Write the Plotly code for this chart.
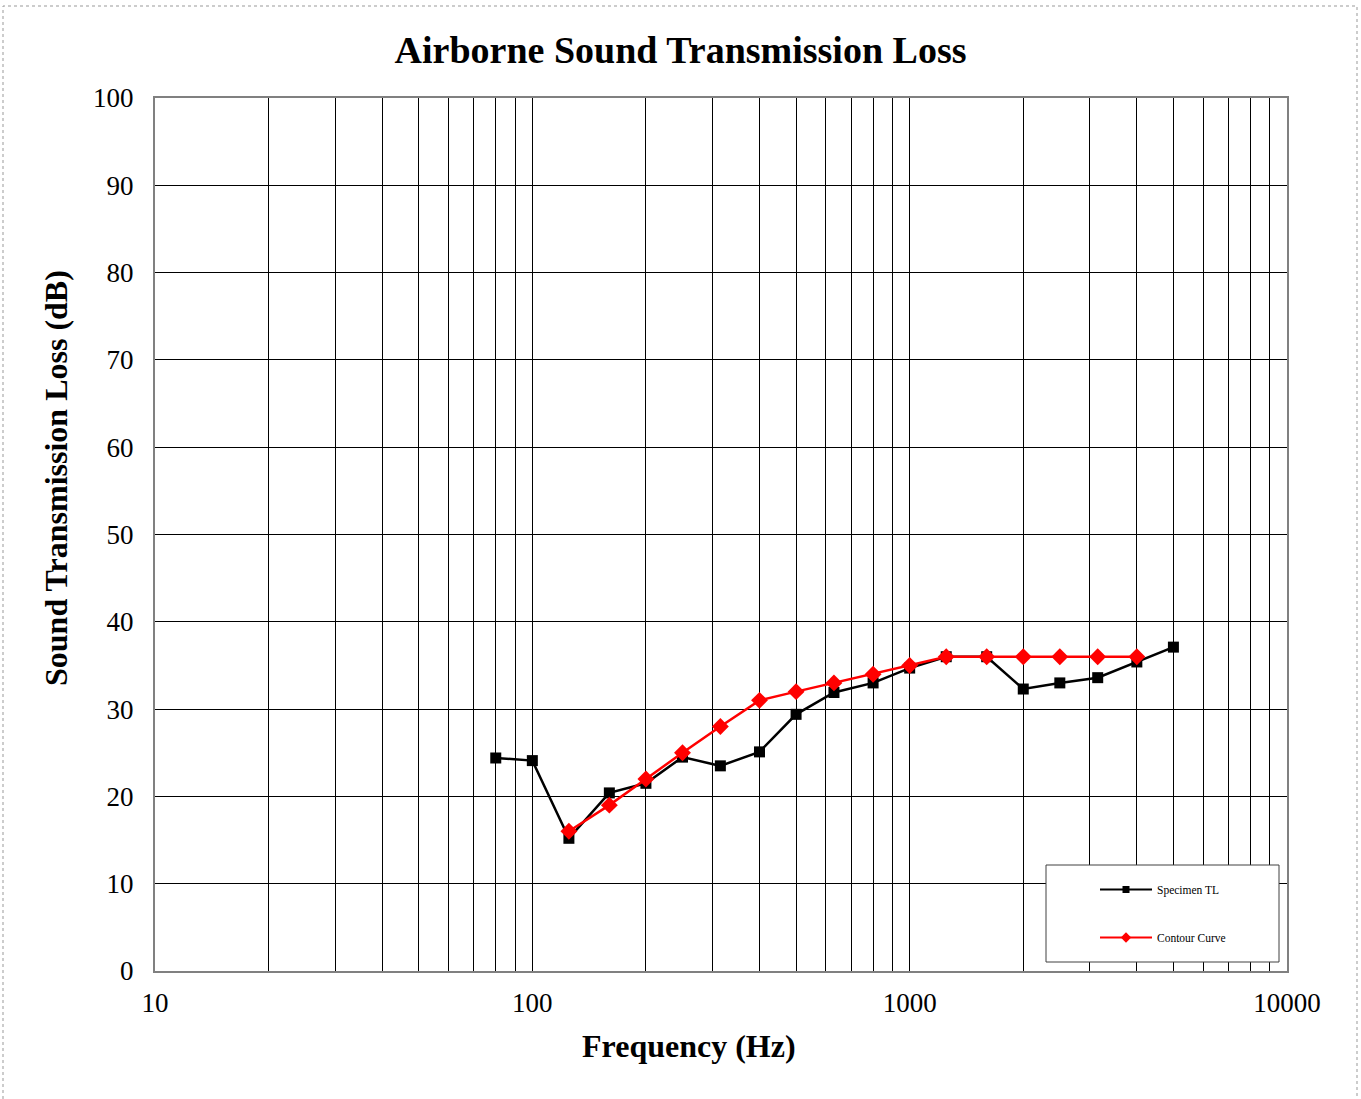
import plotly.graph_objects as go

freqs = [80, 100, 125, 160, 200, 250, 315, 400, 500, 630, 800, 1000, 1250, 1600, 2000, 2500, 3150, 4000, 5000]
specimen_tl = [24.4, 24.1, 15.2, 20.4, 21.5, 24.5, 23.5, 25.1, 29.4, 31.9, 33.0, 34.7, 36.0, 36.0, 32.3, 33.0, 33.6, 35.4, 37.1]

contour_freqs = [125, 160, 200, 250, 315, 400, 500, 630, 800, 1000, 1250, 1600, 2000, 2500, 3150, 4000]
contour_vals = [16, 19, 22, 25, 28, 31, 32, 33, 34, 35, 36, 36, 36, 36, 36, 36]

x_grid = [m * 10 ** e for e in range(1, 4) for m in range(1, 10)] + [10000]
x_labels = {10: "10", 100: "100", 1000: "1000", 10000: "10000"}

FONT = "Liberation Serif"

fig = go.Figure()
fig.add_trace(go.Scatter(
    x=freqs, y=specimen_tl, mode="lines+markers", name="Specimen TL",
    line=dict(color="black", width=2.5),
    marker=dict(symbol="square", size=11, color="black"),
    showlegend=False,
))
fig.add_trace(go.Scatter(
    x=contour_freqs, y=contour_vals, mode="lines+markers", name="Contour Curve",
    line=dict(color="#ff0000", width=2.5),
    marker=dict(symbol="diamond", size=13, color="#ff0000"),
    showlegend=False,
))
# legend-only entries (smaller symbols, as in the reference legend)
fig.add_trace(go.Scatter(
    x=[None], y=[None], mode="lines+markers", name="Specimen TL",
    line=dict(color="black", width=2),
    marker=dict(symbol="square", size=7, color="black"),
    legendgroup="a",
))
fig.add_trace(go.Scatter(
    x=[None], y=[None], mode="lines+markers", name="Contour Curve",
    line=dict(color="#ff0000", width=2),
    marker=dict(symbol="diamond", size=8, color="#ff0000"),
    legendgroup="b",
))

W, H = 1361, 1099
L, R, T, B = 155, 1287, 98, 971
pw, ph = R - L, B - T

def px(x):
    return (x - L) / pw

def py(y):
    return (B - y) / ph

fig.update_layout(
    width=W, height=H,
    margin=dict(l=L, r=W - R, t=T, b=H - B),
    paper_bgcolor="white", plot_bgcolor="white",
    font=dict(family=FONT, color="black"),
    title=dict(text="<b>Airborne Sound Transmission Loss</b>", x=0.5, xanchor="center",
               y=1 - 50 / H, yanchor="middle", font=dict(size=38, family=FONT, color="black")),
    showlegend=True,
    legend=dict(x=px(1095), y=py(875), xanchor="left", yanchor="top",
                bgcolor="rgba(0,0,0,0)", borderwidth=0, itemwidth=52,
                font=dict(size=11.5, family=FONT, color="black"),
                tracegroupgap=29, traceorder="grouped"),
    shapes=[
        dict(type="rect", xref="paper", yref="paper",
             x0=px(1046), x1=px(1279), y0=py(962), y1=py(865),
             line=dict(color="#404040", width=1), fillcolor="white", layer="above"),
        dict(type="rect", xref="paper", yref="paper",
             x0=px(3), x1=px(1357), y0=py(1110), y1=py(6),
             line=dict(color="#999999", width=1, dash="dot"), fillcolor="rgba(0,0,0,0)"),
    ],
    annotations=[
        dict(text="<b>Frequency (Hz)</b>", xref="paper", yref="paper",
             x=px(689), y=py(1046), xanchor="center", yanchor="middle", showarrow=False,
             font=dict(size=32, family=FONT, color="black")),
        dict(text="<b>Sound Transmission Loss (dB)</b>", xref="paper", yref="paper",
             x=px(56), y=py(478), xanchor="center", yanchor="middle", showarrow=False,
             textangle=-90, font=dict(size=32, family=FONT, color="black")),
    ],
)

fig.update_xaxes(
    type="log", range=[1, 4],
    tickvals=x_grid, ticktext=[x_labels.get(v, "") for v in x_grid],
    showgrid=True, gridcolor="black", gridwidth=1,
    showline=True, linecolor="#808080", linewidth=2, mirror=True,
    ticks="", ticklabelstandoff=7,
    tickfont=dict(size=27, family=FONT, color="black"),
    zeroline=False,
)
fig.update_yaxes(
    range=[0, 100], dtick=10, tick0=0,
    showgrid=True, gridcolor="black", gridwidth=1,
    showline=True, linecolor="#808080", linewidth=2, mirror=True,
    ticks="", ticklabelstandoff=14,
    tickfont=dict(size=27, family=FONT, color="black"),
    zeroline=False,
)

fig.write_html("out.html", config={"displayModeBar": False},
               post_script="document.body.style.margin='0';document.body.style.overflow='hidden';")
